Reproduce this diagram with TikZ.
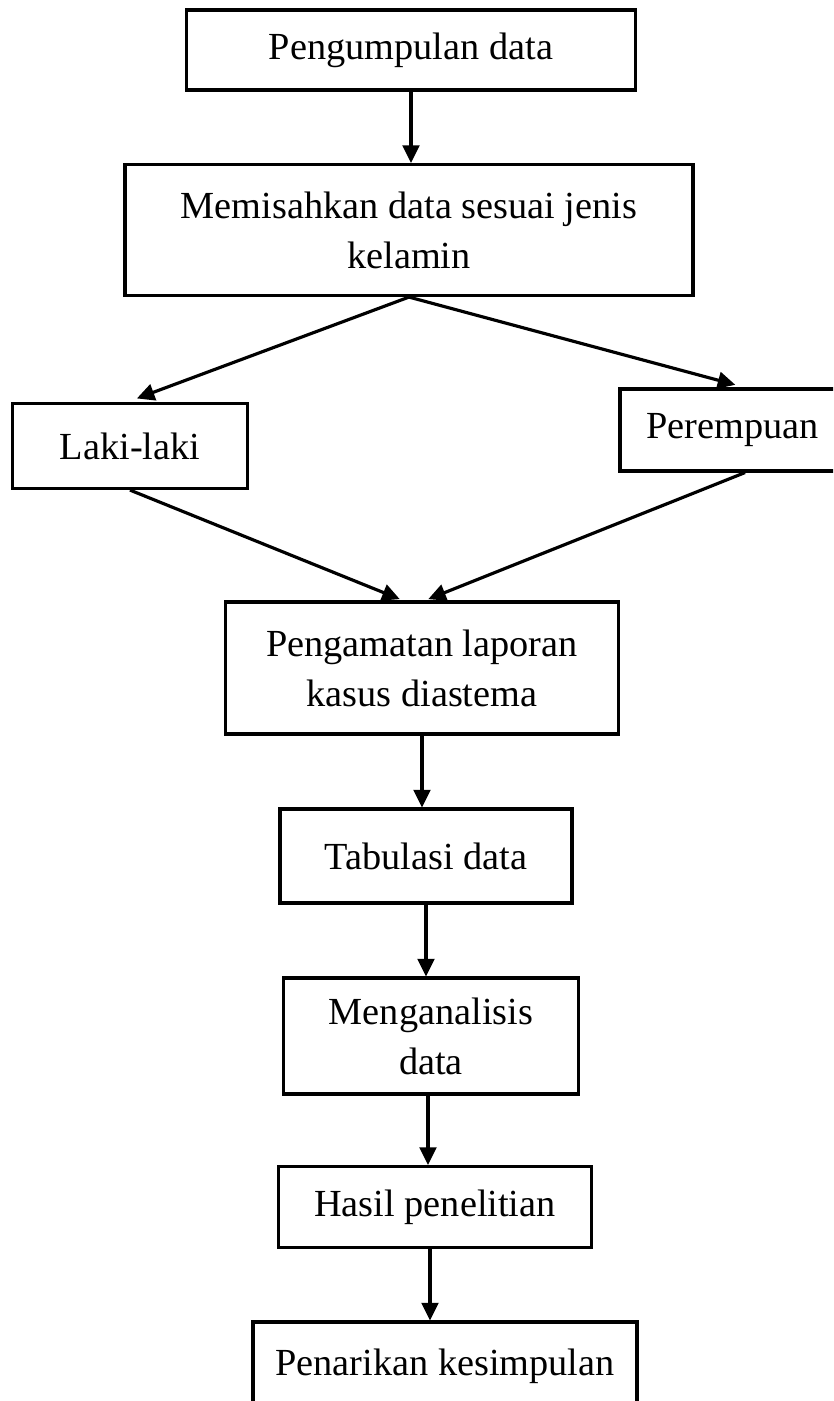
\documentclass[tikz,border=0pt]{standalone}
\usepackage{fontspec}
\setmainfont{Liberation Serif}
\usetikzlibrary{arrows.meta}

\begin{document}
\begin{tikzpicture}[x=0.02cm,y=-0.02cm,
		kotak/.style={draw,line width=1.8pt,inner sep=0pt,align=center,
			font=\fontsize{21.8}{28.5}\selectfont},
		panah/.style={-{Triangle[length=10pt,width=9.5pt]},line width=1.8pt}]
		\useasboundingbox (0,0) rectangle (833,1401);
		\clip (0,0) rectangle (833,1401);
		\node[kotak,minimum width=8.98cm,minimum height=1.6cm] (kumpul) at (411,50) {Pengumpulan data};
		\node[kotak,minimum width=11.36cm,minimum height=2.62cm] (pisah) at (409,230) {Memisahkan data sesuai jenis\\kelamin};
		\node[kotak,minimum width=4.7cm,minimum height=1.7cm] (laki) at (130,446) {Laki-laki};
		\node[kotak,minimum width=5cm,minimum height=1.64cm] (perempuan) at (745,430) {\hspace*{-0.5cm}Perempuan};
		\node[kotak,minimum width=7.86cm,minimum height=2.64cm] (amat) at (422,668) {Pengamatan laporan\\kasus diastema};
		\node[kotak,minimum width=5.84cm,minimum height=1.88cm] (tabulasi) at (426,856) {Tabulasi data};
		\node[kotak,minimum width=5.9cm,minimum height=2.32cm] (analisis) at (431,1036) {Menganalisis\\data};
		\node[kotak,minimum width=6.26cm,minimum height=1.62cm] (hasil) at (435,1207) {Hasil penelitian};
		\node[kotak,minimum width=7.68cm,minimum height=1.76cm] (tarik) at (445,1366) {Penarikan kesimpulan};
		\draw[panah] (kumpul.south) -- (kumpul.south |- pisah.north);
		\draw[panah,shorten >=0.2cm] (pisah.south) -- ([xshift=-0.05cm]laki.north);
		\draw[panah,shorten >=0.2cm] (pisah.south) -- (perempuan.north);
		\draw[panah,shorten >=2pt] (laki.south) -- ([xshift=-0.38cm]amat.north);
		\draw[panah,shorten >=2pt] (perempuan.south) -- ([xshift=0.06cm]amat.north);
		\draw[panah] (amat.south) -- (amat.south |- tabulasi.north);
		\draw[panah] (tabulasi.south) -- (tabulasi.south |- analisis.north);
		\draw[panah] ([xshift=-0.06cm]analisis.south) -- ([xshift=-0.06cm]analisis.south |- hasil.north);
		\draw[panah] ([xshift=-0.1cm]hasil.south) -- ([xshift=-0.1cm]hasil.south |- tarik.north);
	\end{tikzpicture}
\end{document}
